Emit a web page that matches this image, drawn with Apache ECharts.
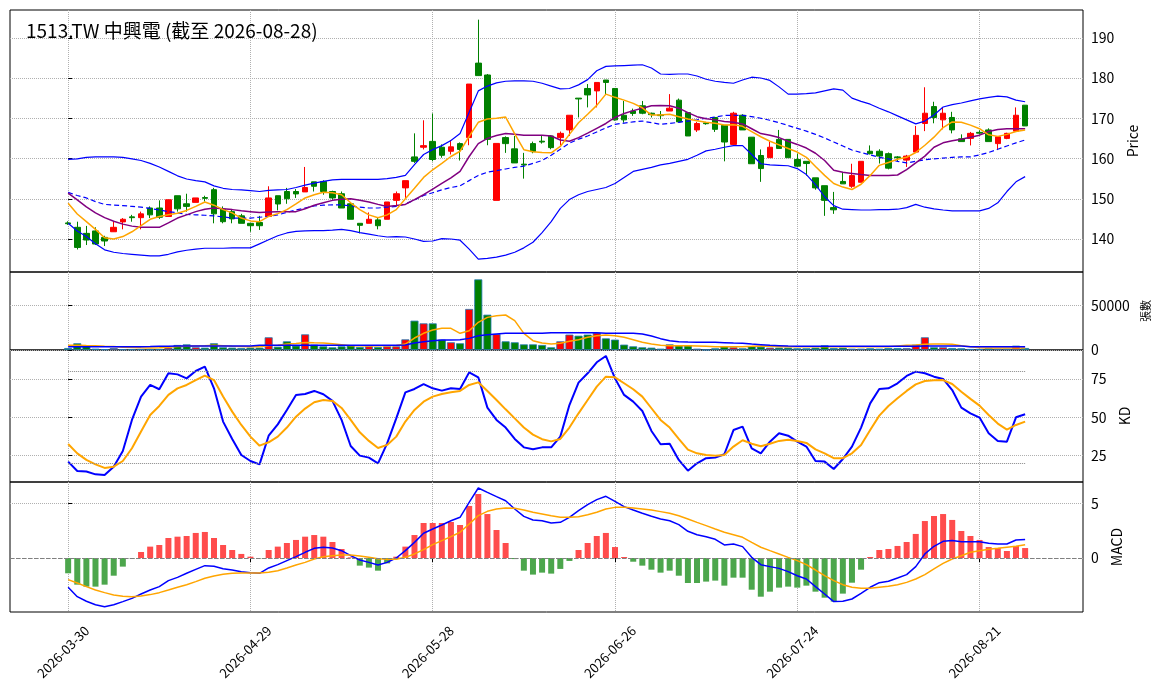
<!DOCTYPE html>
<html lang="zh-Hant">
<head>
<meta charset="UTF-8">
<title>1513.TW 中興電</title>
<script src="https://cdn.jsdelivr.net/npm/echarts@6/dist/echarts.min.js"></script>
<style>
  html, body { margin: 0; padding: 0; background: #fff; }
  #main { width: 1163px; height: 698px; }
</style>
</head>
<body>
<div id="main"></div>
<script>
// trading days (index 0 .. 105)
var dates = [
  '2026-03-30','2026-03-31',
  '2026-04-01','2026-04-02','2026-04-07','2026-04-08','2026-04-09','2026-04-10','2026-04-13','2026-04-14','2026-04-15','2026-04-16',
  '2026-04-17','2026-04-20','2026-04-21','2026-04-22','2026-04-23','2026-04-24','2026-04-27','2026-04-28','2026-04-29','2026-04-30',
  '2026-05-04','2026-05-05','2026-05-06','2026-05-07','2026-05-08','2026-05-11','2026-05-12','2026-05-13','2026-05-14','2026-05-15',
  '2026-05-18','2026-05-19','2026-05-20','2026-05-21','2026-05-22','2026-05-25','2026-05-26','2026-05-27','2026-05-28','2026-05-29',
  '2026-06-01','2026-06-02','2026-06-03','2026-06-04','2026-06-05','2026-06-08','2026-06-09','2026-06-10','2026-06-11','2026-06-12',
  '2026-06-15','2026-06-16','2026-06-17','2026-06-18','2026-06-22','2026-06-23','2026-06-24','2026-06-25','2026-06-26','2026-06-29','2026-06-30',
  '2026-07-01','2026-07-02','2026-07-03','2026-07-06','2026-07-07','2026-07-08','2026-07-09','2026-07-10','2026-07-13','2026-07-14',
  '2026-07-15','2026-07-16','2026-07-17','2026-07-20','2026-07-21','2026-07-22','2026-07-23','2026-07-24','2026-07-27','2026-07-28',
  '2026-07-29','2026-07-30','2026-07-31',
  '2026-08-03','2026-08-04','2026-08-05','2026-08-06','2026-08-07','2026-08-10','2026-08-11','2026-08-12','2026-08-13','2026-08-14',
  '2026-08-17','2026-08-18','2026-08-19','2026-08-20','2026-08-21','2026-08-24','2026-08-25','2026-08-26','2026-08-27','2026-08-28'
];

var opens = [144.0,142.9,141.4,142.0,140.4,141.8,144.25,145.5,145.3,147.7,
  147.7,145.6,150.75,148.75,149.1,150.3,152.25,147.4,146.8,145.75,
  143.9,144.1,145.6,150.75,151.8,151.8,151.7,154.2,154.3,151.8,
  151.25,148.75,143.9,143.9,144.75,144.9,149.6,152.7,160.4,162.8,
  164.25,162.8,161.8,163.7,165.2,183.7,180.75,149.6,165.2,162.4,
  158.6,163.7,164.3,165.6,165.2,167.1,175.0,177.4,176.8,179.5,
  177.4,170.75,171.8,173.1,171.25,170.85,171.8,174.5,171.4,167.1,
  168.85,170.2,168.25,163.5,170.75,165.3,160.75,160.2,164.75,164.75,
  159.75,159.3,155.2,153.25,147.8,154.3,153.1,154.1,161.8,161.8,
  161.2,160.4,159.6,161.6,168.7,172.9,169.6,170.2,164.9,165.0,
  166.5,167.1,163.7,165.0,166.8,173.25];
var closes = [143.8,137.9,139.75,138.75,139.5,142.9,144.9,145.3,146.25,146.0,
  145.4,149.75,147.5,148.1,150.2,150.1,146.25,144.3,145.0,143.9,
  143.3,143.3,150.2,148.7,150.0,151.2,152.8,153.1,151.8,150.2,
  147.7,144.9,143.4,144.9,143.3,149.2,151.25,154.5,159.3,163.2,
  159.75,160.8,162.9,162.25,178.5,180.6,164.75,163.75,163.7,158.9,
  158.4,161.7,164.1,162.7,166.25,170.75,174.8,175.8,178.9,178.9,
  169.6,169.6,171.2,171.25,170.9,170.65,172.5,169.1,165.6,168.7,
  168.65,167.25,164.1,171.25,167.1,158.7,157.5,162.8,162.5,160.2,
  158.1,158.75,152.7,149.6,147.25,153.7,155.75,159.3,161.2,160.6,
  157.6,160.2,160.6,165.75,171.25,170.2,171.25,167.1,164.2,166.25,
  166.3,164.2,165.4,166.25,170.75,168.1];
var lows = [143.5,137.4,138.5,138.5,138.25,141.8,142.4,144.3,142.4,145.2,
  145.0,145.6,146.8,146.8,149.1,149.3,143.9,143.9,143.9,143.9,
  141.8,142.25,145.6,147.1,148.75,150.2,151.7,151.8,151.0,149.75,
  147.7,144.9,141.4,143.9,142.4,144.9,148.3,150.2,158.9,162.25,
  159.3,160.2,161.0,159.5,163.3,180.6,163.3,149.6,161.4,158.9,
  155.0,161.3,163.7,162.3,163.3,165.6,170.2,172.7,172.7,176.0,
  169.4,168.9,170.6,171.0,170.2,169.75,171.8,169.1,165.6,166.6,
  168.4,166.6,159.3,163.5,167.1,158.7,154.2,160.2,162.5,160.2,
  157.8,155.75,152.25,145.75,146.25,153.7,152.7,154.1,161.0,158.75,
  157.3,159.3,157.9,161.6,166.8,168.75,167.25,166.25,164.2,163.25,
  166.0,164.2,162.25,164.8,166.8,168.1];
var highs = [144.4,144.3,143.25,142.9,140.8,144.3,145.2,146.0,146.8,148.1,
  149.6,149.75,150.75,151.25,150.2,150.75,152.7,148.1,147.25,146.25,
  143.9,145.75,153.1,150.75,152.7,152.4,157.9,154.2,154.6,152.0,
  151.8,149.0,143.9,146.6,145.4,149.2,151.8,154.5,166.25,169.5,
  171.2,163.5,164.6,164.0,178.5,194.5,181.0,163.75,165.5,165.6,
  161.4,164.2,165.6,165.8,166.7,170.75,175.0,178.5,178.9,179.5,
  177.4,174.3,172.4,174.3,171.4,171.8,176.0,174.9,171.4,169.1,
  169.1,170.2,168.25,171.6,171.0,165.3,162.25,164.1,167.1,164.75,
  161.25,159.3,155.2,153.25,151.7,156.6,158.7,159.3,163.25,162.3,
  161.5,160.6,160.9,168.1,177.7,174.1,172.7,171.6,166.0,166.6,
  167.0,167.5,165.6,166.4,172.7,173.25];

var ma5 = [148.9,146.2,144.3,142.4,140.3,140.0,140.6,141.8,143.3,144.9,
  145.6,146.0,146.4,147.1,148.1,149.2,148.4,147.3,146.5,145.2,
  144.5,144.3,145.6,146.3,147.3,148.7,150.2,151.0,151.6,151.5,
  151.0,149.0,147.3,146.0,145.3,146.0,147.3,150.0,152.6,155.3,
  157.2,158.8,160.5,161.8,165.5,169.0,169.8,170.0,170.3,166.1,
  162.2,161.7,161.5,161.4,163.0,166.0,168.9,171.0,173.2,176.0,
  175.2,174.5,173.7,172.6,170.8,170.8,171.0,170.4,169.8,169.4,
  169.0,168.75,168.3,168.4,168.0,166.7,165.4,164.3,163.4,162.5,
  161.6,160.3,158.0,155.8,153.8,152.9,152.3,153.6,155.8,158.3,
  159.0,159.8,160.3,161.5,163.3,165.3,167.7,169.1,169.0,168.3,
  167.4,165.9,165.5,166.0,166.7,167.1];
var ma10 = [151.4,149.7,148.0,146.5,145.3,144.4,143.7,143.2,142.9,142.9,
  142.9,144.0,145.2,146.0,146.8,147.4,147.7,147.5,147.3,147.0,
  146.8,146.6,146.7,146.8,146.8,146.8,147.5,148.4,149.0,149.6,
  149.9,150.0,149.6,149.2,148.6,148.1,148.3,148.6,149.8,151.0,
  152.4,153.8,155.2,156.8,160.5,163.7,165.0,165.7,166.2,166.0,
  165.8,165.8,165.8,165.6,164.6,164.3,165.2,166.3,167.5,168.7,
  170.2,171.2,171.9,172.5,173.1,173.2,173.1,172.5,171.4,170.4,
  169.9,169.6,169.2,169.0,168.6,167.4,166.2,165.8,165.2,164.3,
  163.5,162.6,161.3,159.5,157.1,156.6,156.3,156.0,155.8,155.75,
  155.75,155.9,157.25,158.9,160.6,162.8,163.9,164.4,164.8,165.3,
  165.8,166.7,167.2,167.4,167.4,167.4];
var bbMid = [151.6,150.8,150.2,149.3,148.6,148.4,148.3,148.1,147.9,147.6,
  147.2,146.8,146.5,146.1,146.0,145.9,145.75,145.5,145.2,145.2,
  145.2,145.4,145.6,146.0,146.6,147.2,147.7,148.2,148.4,148.5,
  148.5,148.2,147.9,147.7,147.7,147.9,148.1,148.7,149.7,150.8,
  151.5,152.2,152.8,153.2,154.5,155.8,156.6,157.0,157.4,157.8,
  158.1,158.8,159.5,160.8,162.3,163.8,164.8,165.6,166.6,167.6,
  168.5,168.8,169.1,169.3,168.9,168.5,168.7,169.0,169.3,169.6,
  170.0,170.3,170.7,170.75,170.7,170.4,170.0,169.5,168.9,168.2,
  167.5,166.8,166.0,165.1,164.1,163.1,162.1,161.5,160.9,160.3,
  159.9,159.3,158.9,159.3,159.7,159.9,160.1,160.3,160.4,160.4,
  160.9,161.5,162.3,163.1,163.9,164.6];
var bbUpper = [159.8,159.9,160.3,160.4,160.4,160.4,160.3,159.9,159.5,158.8,
  157.9,156.8,155.7,154.9,154.5,154.2,153.2,152.6,152.3,152.2,
  152.0,151.8,152.1,152.2,152.3,152.8,153.4,153.9,154.3,154.7,
  154.8,154.8,154.8,154.8,154.8,155.0,155.3,155.8,158.5,161.0,
  162.2,163.2,164.5,166.2,171.5,176.8,178.0,178.8,179.2,179.3,
  179.3,179.2,178.7,178.0,177.3,177.4,178.3,179.6,181.8,182.9,
  183.0,183.1,183.2,183.3,182.5,181.0,180.9,181.0,181.0,180.5,
  179.7,179.2,178.9,178.7,179.5,180.2,180.0,179.4,177.8,176.0,
  176.0,176.1,176.3,176.8,177.3,177.0,175.0,174.2,173.5,172.5,
  171.6,170.6,169.6,168.6,169.3,170.8,172.8,173.4,173.8,174.3,
  174.8,175.2,175.5,175.3,174.5,174.1];
var bbLower = [143.9,142.0,140.6,138.8,137.3,136.7,136.4,136.2,136.0,135.8,
  135.8,136.2,136.8,137.2,137.5,137.7,137.7,137.7,137.8,137.8,
  137.8,138.8,139.8,140.8,141.5,141.9,142.0,142.1,142.1,142.2,
  142.4,142.1,141.6,141.2,140.8,140.5,140.6,140.5,140.0,139.4,
  139.5,140.1,140.0,139.7,137.5,135.0,135.2,135.5,136.0,136.7,
  137.8,139.2,141.6,144.3,147.6,149.8,151.0,151.8,152.3,152.8,
  153.8,155.3,156.8,157.3,157.8,158.4,158.8,159.3,159.8,160.8,
  161.9,162.3,162.8,163.2,163.2,161.0,158.7,158.4,158.3,158.2,
  157.5,156.0,153.5,150.5,148.3,147.4,147.3,147.2,147.2,147.3,
  147.3,147.4,147.8,148.6,147.9,147.5,147.2,147.0,147.0,147.0,
  147.0,147.6,149.0,151.8,154.2,155.5];

var volumes = [2200,7500,4850,1500,750,2200,750,750,1100,750,
  1100,2600,5600,6300,3000,2600,7500,3000,2600,2200,
  2600,2600,14200,3700,9700,4850,17500,6000,4100,3000,
  4100,5200,3400,4100,3400,4100,4100,11900,32800,29800,
  29800,11600,8600,7500,45900,79000,39500,17900,9700,8600,
  6300,6300,5600,3000,9700,17200,16000,17200,19400,13000,
  11600,6000,4100,3000,2600,1500,6300,5200,5200,1500,
  300,1900,4100,3000,1900,4100,3700,2600,2600,2600,
  1900,1900,2600,5200,2200,2600,1500,1500,1900,1500,
  2200,2200,2200,6000,14200,3000,3000,2200,1900,1100,
  1100,1900,1500,1500,4850,2200];
var volMa5 = [5200,5300,5000,4800,4200,3900,3200,2700,2400,2300,
  2600,3100,3800,4200,4500,4700,5200,4700,4200,4000,
  3600,3500,5000,5300,6600,7200,8500,8000,7800,7000,
  6000,4800,4700,4600,4800,4800,5000,6700,13400,18650,
  22400,24250,24250,18650,21600,31000,36500,38400,39150,32800,
  18650,10400,7800,6700,7460,9700,11560,14170,16000,16800,
  16000,14170,11560,8580,6700,5200,4850,4850,4850,4500,
  4100,3730,3730,3730,3730,4100,4500,4100,3700,3700,
  3700,3700,3700,3700,3700,3700,3700,3700,3700,3700,
  3700,4500,5200,5600,6340,6700,6700,6340,4850,3730,
  2600,2200,2200,2200,2200,2200];
var volMa20 = [3700,3700,3700,3700,3700,3700,3700,3700,3700,3800,
  4200,4300,4400,4500,4500,4500,4500,4500,4500,4500,
  4500,5200,5200,5200,5200,5200,5200,5200,5200,5200,
  5200,5200,5200,5200,5200,5300,5400,5600,7800,9300,
  10400,11200,11200,11500,13000,16000,17150,17900,18650,18650,
  18650,18650,18650,19400,19400,19400,19400,19400,19400,18650,
  18650,18650,18650,17900,15700,12700,10400,9300,8900,8580,
  8580,8580,8200,7800,7460,6700,6000,5200,4850,4400,
  4100,4100,4100,4100,4100,4100,4100,4100,4100,4100,
  4100,4100,4100,4100,4500,4500,4500,4500,4500,3730,
  3730,3730,3730,3730,3730,3730];

var kLine = [21.1,15.0,14.6,12.8,12.4,17.8,28.0,48.3,63.5,71.1,
  68.3,78.7,78.0,75.4,80.2,83.0,68.9,47.2,35.9,25.4,
  21.5,19.3,38.0,45.4,54.8,64.6,65.2,67.2,65.0,60.7,
  48.3,31.3,25.0,23.7,20.0,33.0,49.3,66.3,68.5,71.7,
  68.9,67.4,68.9,68.5,79.3,76.1,56.3,48.3,43.3,35.9,
  30.4,29.1,30.4,30.4,37.4,58.0,72.6,78.7,85.9,90.0,
  75.4,64.6,60.2,54.1,41.1,32.4,32.8,22.2,15.2,20.0,
  23.3,23.7,25.9,41.7,43.9,29.8,26.5,34.1,39.6,38.0,
  34.1,30.9,21.5,21.1,16.3,22.8,30.9,43.3,59.1,68.5,
  68.9,72.2,77.0,79.8,78.7,76.5,75.0,67.8,56.3,52.6,
  49.8,39.6,34.6,34.1,50.0,52.0];
var dLine = [32.6,26.5,22.2,19.3,17.0,17.8,21.5,29.8,40.7,51.5,
  57.4,64.6,68.9,71.1,74.3,77.2,74.3,63.5,53.7,45.0,
  37.4,31.5,33.7,37.4,43.3,50.4,55.7,59.8,61.3,60.7,
  56.1,48.3,40.2,34.6,30.0,32.0,37.4,47.2,54.8,60.2,
  63.5,65.2,66.3,67.2,71.1,72.8,67.2,61.3,55.2,49.3,
  43.3,38.7,35.7,34.3,35.9,43.3,52.6,61.3,70.0,76.5,
  76.1,72.2,68.3,63.5,55.9,48.3,43.3,35.9,28.9,26.5,
  25.4,25.0,25.4,30.9,35.0,32.8,31.1,32.8,34.6,35.4,
  34.6,33.3,29.1,26.5,23.3,23.3,26.5,32.0,41.7,51.1,
  57.4,62.4,67.2,71.5,73.7,74.1,74.3,71.7,66.7,62.0,
  57.6,51.5,45.9,42.0,45.0,47.2];

var macdHist = [-1.40,-2.44,-2.62,-2.62,-2.44,-1.62,-0.79,-0.03,0.55,1.04,
  1.19,1.83,1.95,2.01,2.29,2.38,1.83,1.19,0.73,0.37,
  0.12,-0.02,0.73,1.04,1.37,1.65,1.95,2.10,1.95,1.46,
  0.82,0.06,-0.70,-0.88,-1.16,-0.49,0.12,1.04,2.10,3.20,
  3.20,3.20,3.29,3.02,4.76,5.85,4.02,2.56,1.37,-0.10,
  -1.16,-1.52,-1.34,-1.43,-1.00,-0.27,0.73,1.37,2.01,2.29,
  1.00,0.09,-0.34,-0.70,-1.07,-1.34,-1.16,-1.62,-2.29,-2.29,
  -2.16,-2.07,-2.53,-1.80,-1.80,-2.90,-3.54,-3.08,-2.71,-2.62,
  -2.71,-2.53,-3.08,-3.63,-3.99,-3.26,-2.26,-1.07,0.09,0.73,
  0.82,1.10,1.46,2.20,3.38,3.84,4.02,3.48,2.47,2.01,
  1.65,1.00,0.91,0.64,1.10,0.91];
var dif = [-2.68,-3.54,-3.96,-4.27,-4.45,-4.27,-3.99,-3.69,-3.29,-2.93,
  -2.62,-2.07,-1.77,-1.40,-1.04,-0.70,-0.76,-0.98,-1.10,-1.25,
  -1.34,-1.40,-0.91,-0.61,-0.24,0.12,0.52,0.88,0.98,0.91,
  0.67,0.21,-0.18,-0.40,-0.64,-0.40,0.00,0.67,1.43,2.26,
  2.65,3.02,3.41,3.72,5.09,6.40,6.00,5.61,5.24,4.48,
  3.81,3.48,3.41,3.20,3.26,3.72,4.33,4.88,5.34,5.64,
  5.18,4.70,4.39,4.09,3.81,3.57,3.41,3.05,2.44,2.13,
  1.95,1.71,1.19,1.28,1.04,0.06,-0.61,-0.79,-0.95,-1.25,
  -1.62,-1.92,-2.62,-3.29,-3.99,-3.96,-3.75,-3.23,-2.68,-2.26,
  -2.13,-1.83,-1.52,-0.79,0.37,1.07,1.52,1.59,1.49,1.49,
  1.49,1.34,1.28,1.28,1.65,1.68];
var dea = [-1.98,-2.29,-2.62,-2.93,-3.17,-3.38,-3.51,-3.54,-3.48,-3.35,
  -3.17,-2.93,-2.68,-2.44,-2.16,-1.86,-1.65,-1.49,-1.40,-1.37,
  -1.37,-1.37,-1.31,-1.16,-0.91,-0.64,-0.40,-0.09,0.12,0.21,
  0.27,0.27,0.18,0.06,-0.06,-0.12,-0.12,0.06,0.37,0.76,
  1.22,1.59,1.95,2.35,3.11,3.87,4.27,4.48,4.57,4.54,
  4.39,4.18,4.02,3.86,3.72,3.72,3.78,3.96,4.18,4.48,
  4.63,4.63,4.57,4.48,4.39,4.24,4.09,3.87,3.57,3.26,
  2.96,2.65,2.35,2.13,1.89,1.43,0.98,0.67,0.37,0.06,
  -0.24,-0.61,-1.10,-1.62,-2.07,-2.44,-2.68,-2.77,-2.77,-2.68,
  -2.59,-2.44,-2.23,-1.92,-1.52,-1.00,-0.49,-0.09,0.21,0.52,
  0.67,0.79,0.88,0.98,1.07,1.22];

var xTicks = [0, 20, 40, 60, 80, 100];
var priceTicks = [140, 150, 160, 170, 180, 190];
var volTicks = [0, 50000];
var kdTicks = [25, 50, 75];
var macdTicks = [0, 5];
var kdLevels = [20, 80];

var FONT = 'Noto Sans CJK TC';
var UP = '#ff0000', DOWN = '#008000';
var GRID_LINE = { show: true, lineStyle: { color: '#b0b0b0', type: 'dotted', width: 1 } };
var LAST = dates.length - 1;

function pairs(arr) {
  return arr.map(function (v, i) { return [i, v]; });
}
function isUp(i) { return closes[i] >= opens[i]; }

var chart = echarts.init(document.getElementById('main'));

var panels = [
  { top: 10, height: 262 },
  { top: 272, height: 78 },
  { top: 350, height: 132 },
  { top: 482, height: 130 }
];

var grid = panels.map(function (p) {
  return { left: 10, right: 80, top: p.top, height: p.height, show: true,
    borderColor: '#000', borderWidth: 1, backgroundColor: 'transparent' };
});

var xAxis = panels.map(function (p, k) {
  var bottom = k === panels.length - 1;
  return {
    type: 'value', gridIndex: k, min: -6.38, max: 111.35,
    axisLine: { show: false },
    axisTick: { show: bottom, customValues: xTicks, length: 4, lineStyle: { color: '#000' } },
    axisLabel: {
      show: bottom, customValues: xTicks, rotate: 45, color: '#000', fontSize: 13,
      align: 'center', verticalAlign: 'middle', margin: 35, padding: [0, 14, 0, 0],
      fontFamily: FONT,
      formatter: function (v) { return dates[v]; }
    },
    splitLine: GRID_LINE
  };
});

function yAx(k, min, max, ticks, name, gap, size) {
  return {
    type: 'value', gridIndex: k, position: 'right', min: min, max: max,
    axisLine: { show: false },
    axisTick: { show: true, customValues: ticks, length: 4, lineStyle: { color: '#000' } },
    axisLabel: { customValues: ticks, color: '#000', fontSize: 14, margin: 8, fontFamily: FONT,
      formatter: function (v) { return String(v); } },
    splitLine: GRID_LINE,
    name: name, nameLocation: 'middle', nameRotate: 90, nameGap: gap,
    nameTextStyle: { color: '#000', fontSize: size, fontFamily: FONT }
  };
}

var yAxis = [
  yAx(0, 131.8, 196.9, priceTicks, 'Price', 39, 14),
  yAx(1, 0, 87250, volTicks, '張數', 56, 11),
  yAx(2, 7.8, 93.9, kdTicks, 'KD', 32, 14),
  yAx(3, -4.94, 6.95, macdTicks, 'MACD', 23, 14)
];

function line(name, data, xi, color, width, dashed, z) {
  return {
    name: name, type: 'line', xAxisIndex: xi, yAxisIndex: xi, data: pairs(data),
    showSymbol: false, symbol: 'none', silent: true, z: z || 3,
    lineStyle: { color: color, width: width, type: dashed ? [5, 3] : 'solid' }
  };
}

var candleData = dates.map(function (d, i) {
  return [i, opens[i], closes[i], lows[i], highs[i]];
});

var volData = volumes.map(function (v, i) {
  return { value: [i, v], itemStyle: { color: isUp(i) ? UP : DOWN } };
});

var histData = macdHist.map(function (v, i) {
  return { value: [i, v], itemStyle: { color: v >= 0 ? '#ff4c4c' : '#4ca64c' } };
});

var kSeries = line('K值', kLine, 2, '#0000ff', 2, false);
kSeries.markLine = {
  silent: true, symbol: 'none', label: { show: false },
  lineStyle: { color: '#888', type: 'dotted', width: 1 },
  data: kdLevels.map(function (lv) { return [{ coord: [0, lv] }, { coord: [LAST, lv] }]; })
};

var option = {
  animation: false,
  backgroundColor: '#fff',
  textStyle: { fontFamily: FONT },
  title: {
    text: '1513.TW 中興電 (截至 2026-08-28)', left: 21, top: 16,
    textStyle: { fontSize: 19, fontWeight: 'normal', color: '#000', fontFamily: FONT }
  },
  grid: grid,
  xAxis: xAxis,
  yAxis: yAxis,
  series: [
    {
      name: 'K', type: 'candlestick', xAxisIndex: 0, yAxisIndex: 0, data: candleData,
      barWidth: 6, z: 2,
      itemStyle: { color: UP, color0: DOWN, borderColor: UP, borderColor0: DOWN, borderWidth: 1 }
    },
    line('BB上軌', bbUpper, 0, '#0000ff', 1.2, false),
    line('BB下軌', bbLower, 0, '#0000ff', 1.2, false),
    line('MA20', bbMid, 0, '#0000ff', 1.2, true),
    line('MA10', ma10, 0, '#800080', 1.5, false),
    line('MA5', ma5, 0, '#ffa500', 1.5, false),

    {
      name: '成交量', type: 'bar', xAxisIndex: 1, yAxisIndex: 1, data: volData,
      barWidth: 8, silent: true,
      itemStyle: { borderColor: '#1f77b4', borderWidth: 0.8 }
    },
    line('量MA5', volMa5, 1, '#ffa500', 1.5, false),
    line('量MA20', volMa20, 1, '#0000ff', 1.5, false),

    kSeries,
    line('D值', dLine, 2, '#ffa500', 2, false),

    {
      name: 'MACD柱', type: 'bar', xAxisIndex: 3, yAxisIndex: 3, data: histData,
      barWidth: 6, silent: true,
      markLine: {
        silent: true, symbol: 'none', label: { show: false },
        lineStyle: { color: '#808080', type: 'dashed', width: 1 },
        data: [{ yAxis: 0 }]
      }
    },
    line('DIF', dif, 3, '#0000ff', 1.5, false),
    line('DEA', dea, 3, '#ffa500', 1.5, false)
  ]
};

chart.setOption(option);
window.onresize = chart.resize;
</script>
</body>
</html>
